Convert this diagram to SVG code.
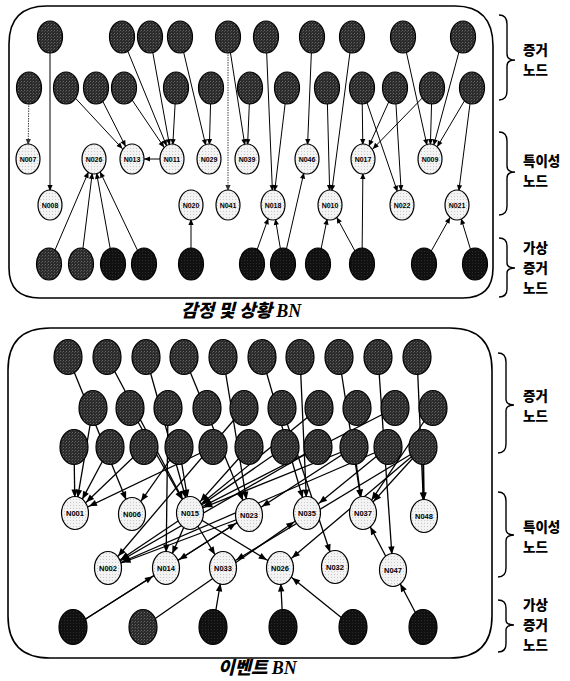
<svg xmlns="http://www.w3.org/2000/svg" width="570" height="681" viewBox="0 0 570 681">
<defs>
  <!-- stippled fills for the three node kinds -->
  <pattern id="dk" width="3" height="3" patternUnits="userSpaceOnUse">
    <rect width="3" height="3" fill="#2b2b2b"/>
    <rect x="0" y="0" width="1" height="1" fill="#666"/>
    <rect x="2" y="1" width="1" height="1" fill="#4a4a4a"/>
  </pattern>
  <pattern id="bk" width="3" height="3" patternUnits="userSpaceOnUse">
    <rect width="3" height="3" fill="#111"/>
    <rect x="1" y="2" width="1" height="1" fill="#2c2c2c"/>
  </pattern>
  <pattern id="lt" width="3" height="3" patternUnits="userSpaceOnUse">
    <rect width="3" height="3" fill="#f3f3f3"/>
    <rect x="1" y="1" width="1" height="1" fill="#c9c9c9"/>
  </pattern>
  <!-- arrowheads: tip set back so it meets the ellipse rim -->
  <marker id="ah" markerUnits="userSpaceOnUse" markerWidth="24" markerHeight="6" refX="20" refY="2.6" orient="auto" overflow="visible">
    <path d="M0,0 L6,2.6 L0,5.2 z" fill="#000"/>
  </marker>
  <marker id="ahg" markerUnits="userSpaceOnUse" markerWidth="24" markerHeight="6" refX="20" refY="2.6" orient="auto" overflow="visible">
    <path d="M0,0 L6,2.6 L0,5.2 z" fill="#333"/>
  </marker>
  <marker id="tip" markerUnits="userSpaceOnUse" markerWidth="7" markerHeight="6" refX="6" refY="2.6" orient="auto" overflow="visible">
    <path d="M0,0 L6,2.6 L0,5.2 z" fill="#000"/>
  </marker>
  <marker id="ahb" markerUnits="userSpaceOnUse" markerWidth="26" markerHeight="7" refX="23.5" refY="3.2" orient="auto" overflow="visible">
    <path d="M0,0 L8,3.2 L0,6.4 z" fill="#000"/>
  </marker>
  <style>
    .panel { fill: none; stroke: #000; stroke-width: 1.6; }
    .brace { fill: none; stroke: #000; stroke-width: 1.4; }
    .ev { fill: url(#dk); stroke: #000; stroke-width: 1.2; }
    .vi { fill: url(#bk); stroke: #000; stroke-width: 1.2; }
    .un { fill: url(#lt); stroke: #000; stroke-width: 1.2; }
    .lbl { font-family: "Liberation Sans", Arial, sans-serif; font-weight: bold; font-size: 7px; text-anchor: middle; fill: #000; }
    .lblb { font-family: "Liberation Sans", Arial, sans-serif; font-weight: bold; font-size: 7.5px; text-anchor: middle; fill: #000; }
    .ct path { fill: none; stroke: #000; stroke-width: 1; marker-end: url(#ah); }
    .ct path.dim { stroke: #444; stroke-dasharray: 1.5 1; marker-end: url(#ahg); }
    .cb path { fill: none; stroke: #000; stroke-width: 1.3; marker-end: url(#ahb); }
    .side { font-family: "Noto Sans CJK KR", sans-serif; font-weight: 900; font-size: 13.5px; fill: #000; }
    .title { font-weight: 900; font-style: italic; font-size: 18px; fill: #000; }
  </style>
</defs>

<!-- ===== Emotion & situation network ===== -->
<path class="panel" d="M47,6 L455,6 Q493,6 493,46 L493,268 Q493,298 463,298 L40,298 Q9,298 9,268 L9,44 Q9,6 47,6 Z"/>

<g id="connectors-emotion" class="ct">
  <path d="M50,37 L50,205"/>
  <path class="dim" d="M29,88 L28,159"/>
  <path d="M66,88 L132,159"/>
  <path d="M96,88 L132,159"/>
  <path d="M124,88 L172,159"/>
  <path d="M122,37 L172,159"/>
  <path d="M150,37 L172,159"/>
  <path d="M176,88 L172,159"/>
  <path d="M160,159 L144,159" style="marker-end:url(#tip)"/>
  <path d="M180,37 L209,159"/>
  <path d="M211,88 L209,159"/>
  <path class="dim" d="M228,37 L228,205"/>
  <path d="M228,37 L247,159"/>
  <path d="M250,88 L247,159"/>
  <path d="M266,37 L273,205"/>
  <path d="M287,88 L273,205"/>
  <path d="M312,37 L307,159"/>
  <path d="M352,37 L330,205"/>
  <path d="M327,88 L330,205"/>
  <path d="M362,88 L363,159"/>
  <path d="M395,88 L363,159"/>
  <path d="M432,88 L363,159"/>
  <path d="M362,88 L402,205"/>
  <path d="M395,88 L402,205"/>
  <path d="M403,37 L430,159"/>
  <path d="M463,37 L430,159"/>
  <path d="M432,88 L430,159"/>
  <path d="M472,88 L430,159"/>
  <path d="M472,88 L457,205"/>
  <path d="M49,264 L94,159"/>
  <path d="M81,264 L94,159"/>
  <path d="M113,264 L94,159"/>
  <path d="M144,264 L94,159"/>
  <path d="M191,264 L191,205"/>
  <path d="M252,264 L273,205"/>
  <path d="M283,264 L273,205"/>
  <path d="M283,264 L307,159"/>
  <path d="M318,264 L330,205"/>
  <path d="M362,264 L330,205"/>
  <path d="M362,264 L363,159"/>
  <path d="M424,264 L457,205"/>
  <path d="M475,264 L457,205"/>
</g>

<!-- evidence nodes, upper row -->
<g id="emo-e01"><ellipse class="ev" cx="50" cy="37" rx="12.5" ry="16"/></g>
<g id="emo-e02"><ellipse class="ev" cx="122" cy="37" rx="12.5" ry="16"/></g>
<g id="emo-e03"><ellipse class="ev" cx="150" cy="37" rx="12.5" ry="16"/></g>
<g id="emo-e04"><ellipse class="ev" cx="180" cy="37" rx="12.5" ry="16"/></g>
<g id="emo-e05"><ellipse class="ev" cx="228" cy="37" rx="12.5" ry="16"/></g>
<g id="emo-e06"><ellipse class="ev" cx="266" cy="37" rx="12.5" ry="16"/></g>
<g id="emo-e07"><ellipse class="ev" cx="312" cy="37" rx="12.5" ry="16"/></g>
<g id="emo-e08"><ellipse class="ev" cx="352" cy="37" rx="12.5" ry="16"/></g>
<g id="emo-e09"><ellipse class="ev" cx="403" cy="37" rx="12.5" ry="16"/></g>
<g id="emo-e10"><ellipse class="ev" cx="463" cy="37" rx="12.5" ry="16"/></g>
<!-- evidence nodes, lower row -->
<g id="emo-e11"><ellipse class="ev" cx="29" cy="88" rx="12.5" ry="16"/></g>
<g id="emo-e12"><ellipse class="ev" cx="66" cy="88" rx="12.5" ry="16"/></g>
<g id="emo-e13"><ellipse class="ev" cx="96" cy="88" rx="12.5" ry="16"/></g>
<g id="emo-e14"><ellipse class="ev" cx="124" cy="88" rx="12.5" ry="16"/></g>
<g id="emo-e15"><ellipse class="ev" cx="176" cy="88" rx="12.5" ry="16"/></g>
<g id="emo-e16"><ellipse class="ev" cx="211" cy="88" rx="12.5" ry="16"/></g>
<g id="emo-e17"><ellipse class="ev" cx="250" cy="88" rx="12.5" ry="16"/></g>
<g id="emo-e18"><ellipse class="ev" cx="287" cy="88" rx="12.5" ry="16"/></g>
<g id="emo-e19"><ellipse class="ev" cx="327" cy="88" rx="12.5" ry="16"/></g>
<g id="emo-e20"><ellipse class="ev" cx="362" cy="88" rx="12.5" ry="16"/></g>
<g id="emo-e21"><ellipse class="ev" cx="395" cy="88" rx="12.5" ry="16"/></g>
<g id="emo-e22"><ellipse class="ev" cx="432" cy="88" rx="12.5" ry="16"/></g>
<g id="emo-e23"><ellipse class="ev" cx="472" cy="88" rx="12.5" ry="16"/></g>

<!-- specificity nodes -->
<g id="emo-N007"><ellipse class="un" cx="28" cy="159" rx="12" ry="15"/><text class="lbl" x="28" y="161.5">N007</text></g>
<g id="emo-N026"><ellipse class="un" cx="94" cy="159" rx="12" ry="15"/><text class="lbl" x="94" y="161.5">N026</text></g>
<g id="emo-N013"><ellipse class="un" cx="132" cy="159" rx="12" ry="15"/><text class="lbl" x="132" y="161.5">N013</text></g>
<g id="emo-N011"><ellipse class="un" cx="172" cy="159" rx="12" ry="15"/><text class="lbl" x="172" y="161.5">N011</text></g>
<g id="emo-N029"><ellipse class="un" cx="209" cy="159" rx="12" ry="15"/><text class="lbl" x="209" y="161.5">N029</text></g>
<g id="emo-N039"><ellipse class="un" cx="247" cy="159" rx="12" ry="15"/><text class="lbl" x="247" y="161.5">N039</text></g>
<g id="emo-N046"><ellipse class="un" cx="307" cy="159" rx="12" ry="15"/><text class="lbl" x="307" y="161.5">N046</text></g>
<g id="emo-N017"><ellipse class="un" cx="363" cy="159" rx="12" ry="15"/><text class="lbl" x="363" y="161.5">N017</text></g>
<g id="emo-N009"><ellipse class="un" cx="430" cy="159" rx="12" ry="15"/><text class="lbl" x="430" y="161.5">N009</text></g>
<g id="emo-N008"><ellipse class="un" cx="50" cy="205" rx="12" ry="15"/><text class="lbl" x="50" y="207.5">N008</text></g>
<g id="emo-N020"><ellipse class="un" cx="191" cy="205" rx="12" ry="15"/><text class="lbl" x="191" y="207.5">N020</text></g>
<g id="emo-N041"><ellipse class="un" cx="228" cy="205" rx="12" ry="15"/><text class="lbl" x="228" y="207.5">N041</text></g>
<g id="emo-N018"><ellipse class="un" cx="273" cy="205" rx="12" ry="15"/><text class="lbl" x="273" y="207.5">N018</text></g>
<g id="emo-N010"><ellipse class="un" cx="330" cy="205" rx="12" ry="15"/><text class="lbl" x="330" y="207.5">N010</text></g>
<g id="emo-N022"><ellipse class="un" cx="402" cy="205" rx="12" ry="15"/><text class="lbl" x="402" y="207.5">N022</text></g>
<g id="emo-N021"><ellipse class="un" cx="457" cy="205" rx="12" ry="15"/><text class="lbl" x="457" y="207.5">N021</text></g>

<!-- virtual evidence nodes -->
<g id="emo-v01"><ellipse class="ev" cx="49" cy="264" rx="12.5" ry="16"/></g>
<g id="emo-v02"><ellipse class="ev" cx="81" cy="264" rx="12.5" ry="16"/></g>
<g id="emo-v03"><ellipse class="vi" cx="113" cy="264" rx="12.5" ry="16"/></g>
<g id="emo-v04"><ellipse class="vi" cx="144" cy="264" rx="12.5" ry="16"/></g>
<g id="emo-v05"><ellipse class="vi" cx="191" cy="264" rx="12.5" ry="16"/></g>
<g id="emo-v06"><ellipse class="vi" cx="252" cy="264" rx="12.5" ry="16"/></g>
<g id="emo-v07"><ellipse class="vi" cx="283" cy="264" rx="12.5" ry="16"/></g>
<g id="emo-v08"><ellipse class="vi" cx="318" cy="264" rx="12.5" ry="16"/></g>
<g id="emo-v09"><ellipse class="vi" cx="362" cy="264" rx="12.5" ry="16"/></g>
<g id="emo-v10"><ellipse class="vi" cx="424" cy="264" rx="12.5" ry="16"/></g>
<g id="emo-v11"><ellipse class="vi" cx="475" cy="264" rx="12.5" ry="16"/></g>

<text class="title" x="181" y="317"><tspan font-family="'Noto Sans CJK KR', sans-serif">감정 및 상황 </tspan><tspan font-family="'Liberation Serif', serif">BN</tspan></text>

<!-- side braces, upper panel -->
<path class="brace" d="M499,15 Q507,15 507,24 L507,54 Q507,60 515,60 Q507,60 507,66 L507,91 Q507,100 499,100"/>
<text class="side" x="523" y="55">증거</text>
<text class="side" x="523" y="75">노드</text>
<path class="brace" d="M499,132 Q507,132 507,141 L507,166 Q507,172 515,172 Q507,172 507,178 L507,206 Q507,215 499,215"/>
<text class="side" x="523" y="166">특이성</text>
<text class="side" x="523" y="186">노드</text>
<path class="brace" d="M499,238 Q507,238 507,246 L507,263 Q507,268 515,268 Q507,268 507,273 L507,289 Q507,297 499,297"/>
<text class="side" x="523" y="253">가상</text>
<text class="side" x="523" y="273">증거</text>
<text class="side" x="523" y="293">노드</text>

<!-- ===== Event network ===== -->
<path class="panel" d="M50,328 L450,328 Q492,328 492,370 L492,616 Q492,658 450,658 L50,658 Q8,658 8,616 L8,370 Q8,328 50,328 Z"/>

<g id="connectors-event" class="cb">
  <path d="M68,357 L132,514"/>
  <path d="M107,357 L190,513"/>
  <path d="M146,357 L190,513"/>
  <path d="M184,357 L249,515"/>
  <path d="M223,357 L249,515"/>
  <path d="M262,357 L307,513"/>
  <path d="M300,357 L307,513"/>
  <path d="M339,357 L363,513"/>
  <path d="M378,357 L393,570"/>
  <path d="M417,357 L424,516"/>
  <path d="M93,408 L75,513"/>
  <path d="M130,408 L190,513"/>
  <path d="M168,408 L166,568"/>
  <path d="M244,408 L108,568"/>
  <path d="M282,408 L335,567"/>
  <path d="M319,408 L190,513"/>
  <path d="M395,408 L190,513"/>
  <path d="M433,408 L363,513"/>
  <path d="M74,447 L75,513"/>
  <path d="M110,447 L75,513"/>
  <path d="M144,447 L75,513"/>
  <path d="M213,447 L75,513"/>
  <path d="M179,447 L132,514"/>
  <path d="M179,447 L190,513"/>
  <path d="M249,447 L190,513"/>
  <path d="M285,447 L190,513"/>
  <path d="M354,447 L190,513"/>
  <path d="M318,447 L108,568"/>
  <path d="M388,447 L108,568"/>
  <path d="M354,447 L249,515"/>
  <path d="M354,447 L363,513"/>
  <path d="M388,447 L307,513"/>
  <path d="M423,447 L424,516" style="stroke-width:2"/>
  <path d="M423,447 L363,513"/>
  <path d="M423,447 L280,568"/>
  <path d="M423,447 L223,568"/>
  <path d="M73,627 L166,568"/>
  <path d="M73,627 L249,515"/>
  <path d="M143,627 L307,513"/>
  <path d="M213,627 L223,568"/>
  <path d="M283,627 L280,568"/>
  <path d="M353,627 L280,568"/>
  <path d="M423,627 L393,570"/>
  <path d="M190,513 L108,568"/>
  <path d="M190,513 L166,568"/>
  <path d="M190,513 L223,568"/>
  <path d="M190,513 L280,568"/>
  <path d="M249,515 L108,568"/>
  <path d="M249,515 L166,568"/>
  <path d="M393,570 L363,513"/>
</g>

<!-- evidence nodes, first row -->
<g id="evt-a01"><ellipse class="ev" cx="68" cy="357" rx="14" ry="17.5"/></g>
<g id="evt-a02"><ellipse class="ev" cx="107" cy="357" rx="14" ry="17.5"/></g>
<g id="evt-a03"><ellipse class="ev" cx="146" cy="357" rx="14" ry="17.5"/></g>
<g id="evt-a04"><ellipse class="ev" cx="184" cy="357" rx="14" ry="17.5"/></g>
<g id="evt-a05"><ellipse class="ev" cx="223" cy="357" rx="14" ry="17.5"/></g>
<g id="evt-a06"><ellipse class="ev" cx="262" cy="357" rx="14" ry="17.5"/></g>
<g id="evt-a07"><ellipse class="ev" cx="300" cy="357" rx="14" ry="17.5"/></g>
<g id="evt-a08"><ellipse class="ev" cx="339" cy="357" rx="14" ry="17.5"/></g>
<g id="evt-a09"><ellipse class="ev" cx="378" cy="357" rx="14" ry="17.5"/></g>
<g id="evt-a10"><ellipse class="ev" cx="417" cy="357" rx="14" ry="17.5"/></g>
<!-- evidence nodes, second row -->
<g id="evt-b01"><ellipse class="ev" cx="93" cy="408" rx="14" ry="17.5"/></g>
<g id="evt-b02"><ellipse class="ev" cx="130" cy="408" rx="14" ry="17.5"/></g>
<g id="evt-b03"><ellipse class="ev" cx="168" cy="408" rx="14" ry="17.5"/></g>
<g id="evt-b04"><ellipse class="ev" cx="207" cy="408" rx="14" ry="17.5"/></g>
<g id="evt-b05"><ellipse class="ev" cx="244" cy="408" rx="14" ry="17.5"/></g>
<g id="evt-b06"><ellipse class="ev" cx="282" cy="408" rx="14" ry="17.5"/></g>
<g id="evt-b07"><ellipse class="ev" cx="319" cy="408" rx="14" ry="17.5"/></g>
<g id="evt-b08"><ellipse class="ev" cx="357" cy="408" rx="14" ry="17.5"/></g>
<g id="evt-b09"><ellipse class="ev" cx="395" cy="408" rx="14" ry="17.5"/></g>
<g id="evt-b10"><ellipse class="ev" cx="433" cy="408" rx="14" ry="17.5"/></g>
<!-- evidence nodes, third row -->
<g id="evt-c01"><ellipse class="ev" cx="74" cy="447" rx="14" ry="17.5"/></g>
<g id="evt-c02"><ellipse class="ev" cx="110" cy="447" rx="14" ry="17.5"/></g>
<g id="evt-c03"><ellipse class="ev" cx="144" cy="447" rx="14" ry="17.5"/></g>
<g id="evt-c04"><ellipse class="ev" cx="179" cy="447" rx="14" ry="17.5"/></g>
<g id="evt-c05"><ellipse class="ev" cx="213" cy="447" rx="14" ry="17.5"/></g>
<g id="evt-c06"><ellipse class="ev" cx="249" cy="447" rx="14" ry="17.5"/></g>
<g id="evt-c07"><ellipse class="ev" cx="285" cy="447" rx="14" ry="17.5"/></g>
<g id="evt-c08"><ellipse class="ev" cx="318" cy="447" rx="14" ry="17.5"/></g>
<g id="evt-c09"><ellipse class="ev" cx="354" cy="447" rx="14" ry="17.5"/></g>
<g id="evt-c10"><ellipse class="ev" cx="388" cy="447" rx="14" ry="17.5"/></g>
<g id="evt-c11"><ellipse class="ev" cx="423" cy="447" rx="14" ry="17.5"/></g>

<!-- specificity nodes -->
<g id="evt-N001"><ellipse class="un" cx="75" cy="513" rx="13.5" ry="16.5"/><text class="lblb" x="75" y="515.7">N001</text></g>
<g id="evt-N006"><ellipse class="un" cx="132" cy="514" rx="13.5" ry="16.5"/><text class="lblb" x="132" y="516.7">N006</text></g>
<g id="evt-N015"><ellipse class="un" cx="190" cy="513" rx="13.5" ry="16.5"/><text class="lblb" x="190" y="515.7">N015</text></g>
<g id="evt-N023"><ellipse class="un" cx="249" cy="515" rx="13.5" ry="16.5"/><text class="lblb" x="249" y="517.7">N023</text></g>
<g id="evt-N035"><ellipse class="un" cx="307" cy="513" rx="13.5" ry="16.5"/><text class="lblb" x="307" y="515.7">N035</text></g>
<g id="evt-N037"><ellipse class="un" cx="363" cy="513" rx="13.5" ry="16.5"/><text class="lblb" x="363" y="515.7">N037</text></g>
<g id="evt-N048"><ellipse class="un" cx="424" cy="516" rx="13.5" ry="16.5"/><text class="lblb" x="424" y="518.7">N048</text></g>
<g id="evt-N002"><ellipse class="un" cx="108" cy="568" rx="13.5" ry="16.5"/><text class="lblb" x="108" y="570.7">N002</text></g>
<g id="evt-N014"><ellipse class="un" cx="166" cy="568" rx="13.5" ry="16.5"/><text class="lblb" x="166" y="570.7">N014</text></g>
<g id="evt-N033"><ellipse class="un" cx="223" cy="568" rx="13.5" ry="16.5"/><text class="lblb" x="223" y="570.7">N033</text></g>
<g id="evt-N026"><ellipse class="un" cx="280" cy="568" rx="13.5" ry="16.5"/><text class="lblb" x="280" y="570.7">N026</text></g>
<g id="evt-N032"><ellipse class="un" cx="335" cy="567" rx="13.5" ry="16.5"/><text class="lblb" x="335" y="569.7">N032</text></g>
<g id="evt-N047"><ellipse class="un" cx="393" cy="570" rx="13.5" ry="16.5"/><text class="lblb" x="393" y="572.7">N047</text></g>

<!-- virtual evidence nodes -->
<g id="evt-v01"><ellipse class="vi" cx="73" cy="627" rx="14" ry="17.5"/></g>
<g id="evt-v02"><ellipse class="ev" cx="143" cy="627" rx="14" ry="17.5"/></g>
<g id="evt-v03"><ellipse class="vi" cx="213" cy="627" rx="14" ry="17.5"/></g>
<g id="evt-v04"><ellipse class="vi" cx="283" cy="627" rx="14" ry="17.5"/></g>
<g id="evt-v05"><ellipse class="vi" cx="353" cy="627" rx="14" ry="17.5"/></g>
<g id="evt-v06"><ellipse class="vi" cx="423" cy="627" rx="14" ry="17.5"/></g>

<text class="title" x="218" y="674"><tspan font-family="'Noto Sans CJK KR', sans-serif">이벤트 </tspan><tspan font-family="'Liberation Serif', serif">BN</tspan></text>

<!-- side braces, lower panel -->
<path class="brace" d="M498,353 Q506,353 506,362 L506,399 Q506,405 514,405 Q506,405 506,411 L506,444 Q506,453 498,453"/>
<text class="side" x="523" y="401">증거</text>
<text class="side" x="523" y="421">노드</text>
<path class="brace" d="M498,492 Q506,492 506,501 L506,529 Q506,535 514,535 Q506,535 506,541 L506,568 Q506,577 498,577"/>
<text class="side" x="523" y="532">특이성</text>
<text class="side" x="523" y="552">노드</text>
<path class="brace" d="M498,600 Q506,600 506,608 L506,620 Q506,625 514,625 Q506,625 506,630 L506,644 Q506,652 498,652"/>
<text class="side" x="523" y="610">가상</text>
<text class="side" x="523" y="630">증거</text>
<text class="side" x="523" y="650">노드</text>
</svg>
